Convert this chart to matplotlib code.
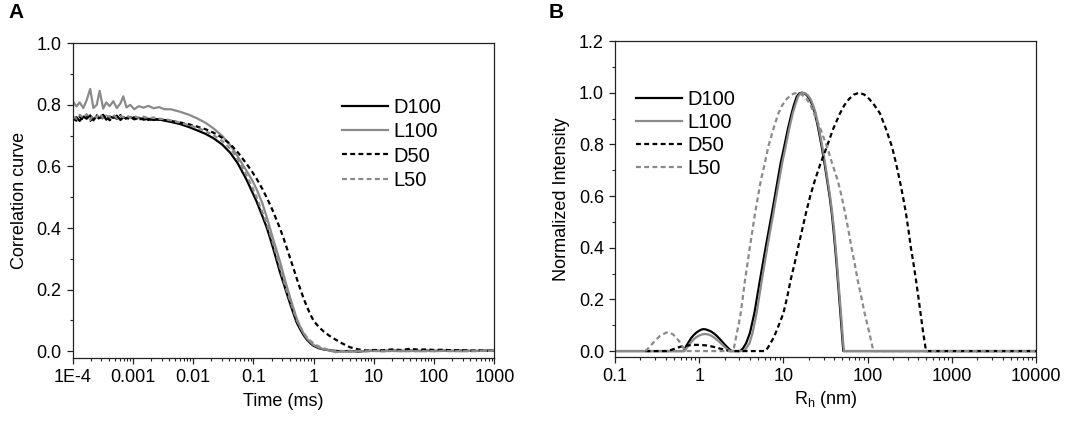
import numpy as np
import matplotlib
matplotlib.use('Agg')
import matplotlib.pyplot as plt
from matplotlib.ticker import FixedLocator, FixedFormatter, MultipleLocator, LogLocator

plt.rcParams['font.family'] = ['Liberation Sans', 'DejaVu Sans']

# ============================================================
# Data: panel A (correlation curves)
# ============================================================

t_ms = [1.0e-4, 1.15e-4, 1.3e-4, 1.5e-4, 1.7e-4, 1.95e-4, 2.2e-4, 2.5e-4, 2.8e-4, 3.2e-4,
        3.6e-4, 4.1e-4, 4.7e-4, 5.4e-4, 6.2e-4, 6.9e-4, 7.8e-4, 9e-4, 1.05e-3, 1.25e-3,
        1.5e-3, 1.8e-3, 2.2e-3, 2.7e-3, 3.3e-3,
        4.2e-3, 6e-3, 8.5e-3, 0.0114, 0.016, 0.0216, 0.03, 0.041, 0.055, 0.0773,
        0.095, 0.113, 0.14, 0.166, 0.19, 0.214, 0.245, 0.277, 0.32, 0.357,
        0.41, 0.461, 0.52, 0.594, 0.68, 0.767, 0.88, 0.99, 1.2, 1.45,
        1.8, 2.3, 3.0, 4.0, 5.5, 7.5, 10, 14, 20, 28,
        40, 55, 75, 100, 140, 200, 280, 400, 550, 750, 1000]

g_D100 = [0.752, 0.760, 0.748, 0.762, 0.755, 0.766, 0.750, 0.764, 0.757, 0.768,
          0.752, 0.762, 0.758, 0.765, 0.751, 0.760, 0.756, 0.761, 0.753, 0.758,
          0.752, 0.755, 0.751, 0.753, 0.749,
          0.745, 0.738, 0.728, 0.718, 0.706, 0.692, 0.672, 0.645, 0.610, 0.556,
          0.518, 0.486, 0.440, 0.402, 0.366, 0.332, 0.292, 0.255, 0.218, 0.188,
          0.152, 0.123, 0.094, 0.072, 0.052, 0.038, 0.026, 0.018, 0.010, 0.006,
          0.003, 0.001, 0.000, 0.001, -0.001, 0.001, 0.002, 0.001, 0.002, 0.001,
          0.002, 0.001, 0.002, 0.001, 0.002, 0.001, 0.002, 0.001, 0.001, 0.002, 0.002]

g_L100 = [0.812, 0.795, 0.808, 0.790, 0.815, 0.852, 0.790, 0.800, 0.846, 0.788,
          0.808, 0.796, 0.812, 0.790, 0.805, 0.828, 0.792, 0.800, 0.786, 0.796,
          0.791, 0.797, 0.789, 0.793, 0.786,
          0.786, 0.778, 0.768, 0.757, 0.742, 0.724, 0.700, 0.670, 0.632, 0.585,
          0.556, 0.526, 0.482, 0.436, 0.397, 0.362, 0.325, 0.290, 0.245, 0.212,
          0.172, 0.140, 0.108, 0.080, 0.058, 0.042, 0.030, 0.021, 0.012, 0.007,
          0.003, -0.003, -0.001, -0.002, 0.001, 0.000, 0.001, 0.000, 0.001, 0.000,
          0.001, 0.000, 0.001, 0.000, 0.001, 0.001, 0.000, 0.001, 0.001, 0.001, 0.002]

g_D50 = [0.755, 0.749, 0.761, 0.752, 0.764, 0.748, 0.760, 0.766, 0.751, 0.759,
         0.765, 0.750, 0.762, 0.755, 0.767, 0.752, 0.758, 0.754, 0.760, 0.752,
         0.757, 0.751, 0.755, 0.752, 0.751,
         0.748, 0.743, 0.737, 0.730, 0.721, 0.710, 0.694, 0.673, 0.646, 0.608,
         0.583, 0.560, 0.528, 0.499, 0.475, 0.452, 0.424, 0.398, 0.364, 0.336,
         0.300, 0.270, 0.238, 0.204, 0.172, 0.146, 0.120, 0.100, 0.080, 0.065,
         0.051, 0.038, 0.025, 0.013, 0.006, 0.002, 0.004, 0.003, 0.006, 0.004,
         0.008, 0.005, 0.006, 0.004, 0.005, 0.003, 0.004, 0.002, 0.003, 0.001, 0.002]

g_L50 = [0.762, 0.755, 0.768, 0.758, 0.770, 0.752, 0.766, 0.760, 0.772, 0.757,
         0.765, 0.761, 0.768, 0.757, 0.764, 0.760, 0.766, 0.759, 0.763, 0.758,
         0.762, 0.757, 0.759, 0.755, 0.754,
         0.750, 0.743, 0.734, 0.726, 0.715, 0.702, 0.684, 0.658, 0.624, 0.570,
         0.534, 0.500, 0.453, 0.415, 0.380, 0.347, 0.308, 0.270, 0.228, 0.197,
         0.162, 0.132, 0.102, 0.080, 0.060, 0.046, 0.034, 0.026, 0.016, 0.010,
         0.004, 0.002, 0.001, 0.000, 0.001, 0.000, 0.001, 0.000, 0.001, 0.001,
         0.000, 0.001, 0.000, 0.001, 0.001, 0.000, 0.001, 0.000, 0.001, 0.001, 0.001]

a_ticks = [1e-4, 1e-3, 1e-2, 1e-1, 1, 10, 100, 1000]
a_labels = ['1E-4', '0.001', '0.01', '0.1', '1', '10', '100', '1000']

# ============================================================
# Data: panel B (size distributions)
# ============================================================

R_D100 = [0.1, 0.65, 0.69, 0.74, 0.8, 0.86, 0.93, 1.0, 1.06, 1.12, 1.19, 1.27, 1.36,
          1.47, 1.6, 1.74, 1.9, 2.05, 2.2, 2.32, 2.43,
          3.05, 3.3, 3.6, 4.0, 4.52, 5.27, 6.17, 7.3, 8.55, 9.3, 10.2, 11.3, 12.5,
          13.4, 14.4, 15.4, 16.5, 17.8, 19.0, 20.5, 22, 23.7, 26, 28.5, 30.8, 33,
          35.3, 37.5, 39.3, 41, 42.7, 44.2, 45.9, 47.5, 49.5, 51.4, 10000]
I_D100 = [0, 0, 0.015, 0.032, 0.050, 0.062, 0.072, 0.079, 0.083, 0.085, 0.084, 0.081, 0.077,
          0.070, 0.060, 0.048, 0.034, 0.022, 0.012, 0.005, 0,
          0, 0.010, 0.030, 0.070, 0.147, 0.276, 0.404, 0.534, 0.662, 0.730, 0.790, 0.860, 0.920,
          0.955, 0.985, 0.997, 1.0, 0.997, 0.990, 0.975, 0.952, 0.920, 0.860, 0.790, 0.725, 0.662,
          0.600, 0.534, 0.470, 0.404, 0.340, 0.276, 0.210, 0.147, 0.070, 0, 0]

R_L100 = [0.1, 0.67, 0.71, 0.76, 0.82, 0.89, 0.97, 1.05, 1.15, 1.25, 1.36, 1.48, 1.6,
          1.74, 1.9, 2.05, 2.2, 2.35,
          3.35, 3.6, 3.95, 4.3, 4.8, 5.55, 6.45, 7.6, 8.9, 9.7, 10.6, 11.7, 12.9,
          13.9, 14.9, 15.9, 17, 18.3, 19.5, 21, 22.5, 24.2, 26.5, 29, 31.3, 33.5,
          35.8, 38, 39.9, 41.6, 43.3, 44.8, 46.5, 48.2, 50.2, 52.2, 10000]
I_L100 = [0, 0, 0.012, 0.025, 0.038, 0.050, 0.058, 0.063, 0.066, 0.065, 0.061, 0.054, 0.045,
          0.035, 0.023, 0.013, 0.005, 0,
          0, 0.010, 0.030, 0.070, 0.147, 0.276, 0.404, 0.534, 0.662, 0.730, 0.790, 0.860, 0.920,
          0.955, 0.985, 0.997, 1.0, 0.997, 0.990, 0.975, 0.952, 0.920, 0.860, 0.790, 0.725, 0.662,
          0.600, 0.534, 0.470, 0.404, 0.340, 0.276, 0.210, 0.147, 0.070, 0, 0]

R_D50 = [0.23, 0.41, 0.46, 0.52, 0.6, 0.7, 0.85, 1.0, 1.2, 1.45, 1.75, 2.05, 2.3,
         6.04, 6.5, 7.0, 7.6, 8.2, 9.0, 10, 11.1, 12.2, 13.6, 15, 16.7, 18.5, 20.8,
         23.7, 27.5, 32.7, 39, 47, 53, 60, 68, 79.6, 92, 105, 120, 140, 165, 195,
         218, 240, 262, 285, 305, 325, 350, 375, 400, 425, 455, 494, 10000]
I_D50 = [0, 0, 0.004, 0.010, 0.017, 0.021, 0.024, 0.024, 0.022, 0.017, 0.010, 0.004, 0,
         0, 0.012, 0.030, 0.050, 0.075, 0.108, 0.147, 0.210, 0.276, 0.340, 0.404, 0.470, 0.534, 0.600,
         0.662, 0.725, 0.790, 0.860, 0.920, 0.952, 0.975, 0.992, 1.0, 0.992, 0.975, 0.952, 0.920, 0.860, 0.790,
         0.725, 0.662, 0.600, 0.534, 0.470, 0.404, 0.340, 0.276, 0.210, 0.147, 0.075, 0, 0]

R_L50 = [0.23, 0.25, 0.28, 0.31, 0.34, 0.38, 0.41, 0.45, 0.49, 0.53, 0.57, 0.61, 0.65, 0.68,
         2.54, 2.65, 2.8, 2.95, 3.11, 3.3, 3.5, 3.75, 4.0, 4.3, 4.6, 5.0, 5.4, 6.0, 6.6,
         7.6, 8.7, 9.7, 10.9, 12.5, 14.4, 16.5, 19, 21, 23, 27.5, 33, 38, 44, 49,
         54, 59, 64, 70, 76, 84, 92, 104, 117, 10000]
I_L50 = [0, 0.012, 0.030, 0.045, 0.058, 0.067, 0.072, 0.071, 0.064, 0.053, 0.040, 0.026, 0.012, 0,
         0, 0.030, 0.070, 0.105, 0.147, 0.210, 0.276, 0.340, 0.404, 0.470, 0.534, 0.600, 0.662, 0.725, 0.790,
         0.860, 0.920, 0.952, 0.975, 0.993, 1.0, 0.993, 0.975, 0.952, 0.920, 0.860, 0.790, 0.725, 0.662, 0.600,
         0.534, 0.470, 0.404, 0.340, 0.276, 0.210, 0.147, 0.075, 0, 0]

b_ticks = [0.1, 1, 10, 100, 1000, 10000]
b_labels = ['0.1', '1', '10', '100', '1000', '10000']

names = ['D100', 'L100', 'D50', 'L50']

# ============================================================
# Style
# ============================================================

GRAY = '#8a8a8a'
LW = 1.6
DASH = (2.2, 1.5)
styles = [dict(color='black', ls='-'),
          dict(color=GRAY, ls='-'),
          dict(color='black', ls=(0, DASH)),
          dict(color=GRAY, ls=(0, DASH))]
FS = 13
LEG_FS = 14.5


def style_axes(ax):
    for sp in ax.spines.values():
        sp.set_linewidth(0.9)
        sp.set_color('#222222')
    ax.tick_params(which='major', direction='out', length=4.5, width=0.9,
                   labelsize=FS, top=False, right=False, color='#222222')
    ax.tick_params(which='minor', direction='out', length=2.5, width=0.8,
                   top=False, right=False, color='#222222')


fig = plt.figure(figsize=(10.65, 4.21), dpi=100)

# ============================================================
# Panel A
# ============================================================

ax1 = fig.add_axes([0.0683, 0.1489, 0.3959, 0.7482])
for g, name, st in zip([g_D100, g_L100, g_D50, g_L50], names, styles):
    ax1.plot(t_ms, g, lw=LW, label=name, **st)

ax1.set_xscale('log')
ax1.set_xlim(1e-4, 1000)
ax1.set_ylim(-0.023, 1.0)
ax1.xaxis.set_major_locator(FixedLocator(a_ticks))
ax1.xaxis.set_major_formatter(FixedFormatter(a_labels))
ax1.xaxis.set_minor_locator(LogLocator(base=10, subs=np.arange(2, 10), numticks=20))
ax1.yaxis.set_major_locator(MultipleLocator(0.2))
ax1.yaxis.set_minor_locator(MultipleLocator(0.1))
ax1.yaxis.set_major_formatter(plt.FormatStrFormatter('%.1f'))
style_axes(ax1)
ax1.set_xlabel('Time (ms)', fontsize=FS, labelpad=5)
ax1.set_ylabel('Correlation curve', fontsize=FS, labelpad=6)
ax1.legend(loc='upper left', bbox_to_anchor=(0.638, 0.825), frameon=False,
           fontsize=LEG_FS, handlelength=2.3, handletextpad=0.25,
           labelspacing=0.25, borderpad=0, borderaxespad=0)

# ============================================================
# Panel B
# ============================================================

ax2 = fig.add_axes([0.5775, 0.1520, 0.3953, 0.7506])
for R, I, name, st in zip([R_D100, R_L100, R_D50, R_L50],
                          [I_D100, I_L100, I_D50, I_L50], names, styles):
    ax2.plot(R, I, lw=LW, label=name, **st)

ax2.set_xscale('log')
ax2.set_xlim(0.1, 10000)
ax2.set_ylim(-0.023, 1.2)
ax2.xaxis.set_major_locator(FixedLocator(b_ticks))
ax2.xaxis.set_major_formatter(FixedFormatter(b_labels))
ax2.xaxis.set_minor_locator(LogLocator(base=10, subs=np.arange(2, 10), numticks=20))
ax2.yaxis.set_major_locator(MultipleLocator(0.2))
ax2.yaxis.set_minor_locator(MultipleLocator(0.1))
ax2.yaxis.set_major_formatter(plt.FormatStrFormatter('%.1f'))
style_axes(ax2)
ax2.set_xlabel(r'R$_\mathregular{h}$ (nm)', fontsize=FS, labelpad=3)
ax2.set_ylabel('Normalized Intensity', fontsize=FS, labelpad=6)
ax2.legend(loc='upper left', bbox_to_anchor=(0.05, 0.845), frameon=False,
           fontsize=LEG_FS, handlelength=2.3, handletextpad=0.25,
           labelspacing=0.2, borderpad=0, borderaxespad=0)

# panel letters
fig.text(0.008, 0.958, 'A', fontsize=15, fontweight='bold', va='baseline')
fig.text(0.515, 0.958, 'B', fontsize=15, fontweight='bold', va='baseline')

fig.savefig('out.png', dpi=100)
